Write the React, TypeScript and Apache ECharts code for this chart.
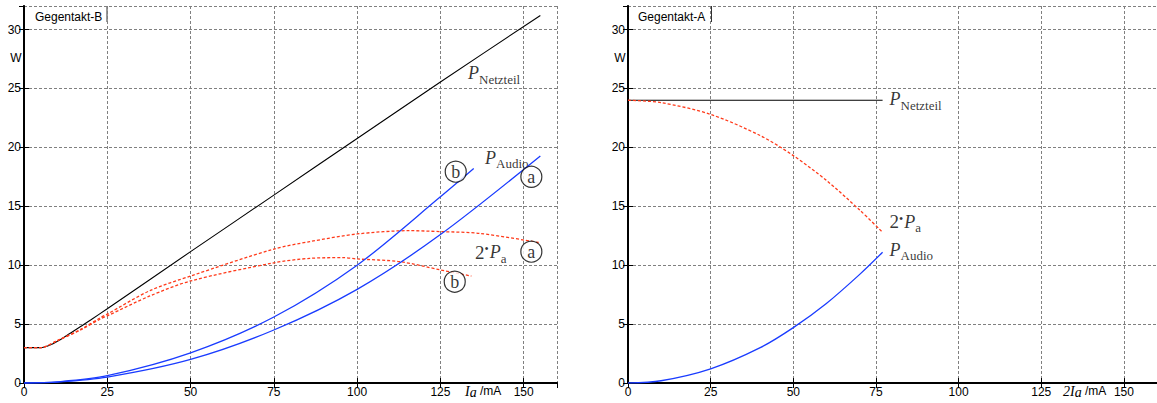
import React, { useEffect, useRef } from "react";
import * as echarts from "echarts";

// ---------- data ----------
const X_MIN = 0;
const X_MAX = 160;
const X_STEP = 25;
const X_LAST_LABEL = 150;
const Y_MIN = 0;
const Y_MAX = 32;
const Y_STEP = 5;
const Y_LAST_LABEL = 30;

const titles = ["Gegentakt-B", "Gegentakt-A"];

// Gegentakt-B (left)
const leftNetzteil: number[][] = [
  [0, 3], [5, 3], [8, 3.25], [11, 3.7], [14, 4.25], [17, 4.8], [20, 5.35], [25, 6.3],
  [50, 11.15], [75, 15.95], [100, 20.75], [125, 25.55], [155, 31.2],
];
const left2PaA: number[][] = [
  [0, 3], [5, 3], [10, 3.6], [17, 4.55], [23, 5.55], [25, 5.85], [37.8, 7.84], [50, 9.08],
  [75, 11.37], [85.8, 12.0], [100, 12.65], [115.8, 12.93], [125, 12.85], [136.8, 12.7], [155, 11.9],
];
const left2PaB: number[][] = [
  [0, 3], [5, 3], [10, 3.6], [17, 4.5], [23, 5.45], [25, 5.7], [37.8, 7.39], [50, 8.66],
  [75, 10.2], [85.8, 10.58], [95.8, 10.64], [100, 10.53], [112.8, 10.3], [125, 9.6], [134.3, 9.08],
];
const leftAudioA: number[][] = [
  [0, 0], [10, 0.08], [25, 0.5], [50, 2.0], [75, 4.5], [100, 7.95], [125, 12.6], [155, 19.27],
];
const leftAudioB: number[][] = [
  [0, 0], [10, 0.1], [25, 0.62], [50, 2.56], [75, 5.6], [100, 10.0], [125, 15.8], [135, 18.2],
];
const leftCircles = [
  { value: [129.6, 17.94], name: "b" },
  { value: [152.3, 17.5], name: "a" },
  { value: [152.3, 11.15], name: "a" },
  { value: [129.3, 8.6], name: "b" },
];
const leftLabels = [
  { value: [133.3, 26.3], pre: "", main: "P", sub: "Netzteil" },
  { value: [138.4, 19.1], pre: "", main: "P", sub: "Audio" },
  { value: [135.4, 11.1], pre: "2•", main: "P", sub: "a" },
];

// Gegentakt-A (right)
const rightNetzteil: number[][] = [[0, 24], [77, 24]];
const right2Pa: number[][] = [
  [0, 24], [10, 23.8], [25, 22.8], [40, 21.0], [50, 19.3], [60, 17.2], [70, 14.7], [77, 12.8],
];
const rightAudio: number[][] = [
  [0, 0], [10, 0.19], [25, 1.2], [40, 3.0], [50, 4.7], [60, 6.75], [70, 9.2], [77, 11.1],
];
const rightLabels = [
  { value: [79.1, 24.1], pre: "", main: "P", sub: "Netzteil" },
  { value: [79.1, 13.7], pre: "2•", main: "P", sub: "a" },
  { value: [79.1, 11.3], pre: "", main: "P", sub: "Audio" },
];

// ---------- styles ----------
const SANS = "'Liberation Sans', Arial, sans-serif";
const SERIF = "'Liberation Serif', 'Times New Roman', serif";
const BLACK = "#000";
const BLUE = "#1a3cff";
const RED = "#ff3a1a";
const GRID_GRAY = "#808080";

const richStyles = {
  n: { fontFamily: SERIF, fontSize: 19, color: BLACK, lineHeight: 20 },
  d: { fontFamily: SERIF, fontSize: 12, color: BLACK, lineHeight: 20, padding: [0, 1, 6, 0] },
  P: { fontFamily: SERIF, fontStyle: "italic", fontSize: 18, color: BLACK, lineHeight: 20 },
  s: { fontFamily: SERIF, fontSize: 13, color: BLACK, lineHeight: 13, padding: [12, 0, 0, 0] },
};

function labelSeries(data: any[], axisIndex: number) {
  return {
    type: "scatter",
    xAxisIndex: axisIndex,
    yAxisIndex: axisIndex,
    silent: true,
    symbolSize: 0,
    data: data.map((d) => ({
      value: d.value,
      label: {
        formatter: (d.pre ? `{n|${d.pre.charAt(0)}}{d|${d.pre.charAt(1)}}` : "") + `{P|${d.main}}{s|${d.sub}}`,
      },
    })),
    label: { show: true, position: "right", distance: 0, rich: richStyles },
  };
}

function lineSeries(data: number[][], axisIndex: number, color: string, dashed: boolean, width: number) {
  return {
    type: "line",
    xAxisIndex: axisIndex,
    yAxisIndex: axisIndex,
    data,
    showSymbol: false,
    symbol: "none",
    smooth: 0.3,
    silent: true,
    lineStyle: { color, width, type: dashed ? [3, 2] : "solid" },
  };
}

function makeAxes(gridIndex: number) {
  const xBottom = {
    type: "value",
    gridIndex,
    min: X_MIN,
    max: X_MAX,
    interval: X_STEP,
    position: "bottom",
    axisLine: { show: true, lineStyle: { color: BLACK, width: 2 } },
    axisTick: { show: true, inside: true, length: 5, lineStyle: { color: BLACK } },
    axisLabel: {
      show: true,
      margin: 3,
      fontSize: 12,
      fontFamily: SANS,
      color: BLACK,
      showMaxLabel: false,
      formatter: (v: number) => (v <= X_LAST_LABEL && v % X_STEP === 0 ? String(v) : ""),
    },
    splitLine: { show: true, lineStyle: { color: GRID_GRAY, type: [3, 2], width: 1 } },
  };
  const xTop = {
    type: "value",
    gridIndex,
    min: X_MIN,
    max: X_MAX,
    interval: X_STEP,
    position: "top",
    axisLine: { show: true, lineStyle: { color: BLACK, width: 1.5 } },
    axisTick: { show: true, inside: true, length: 5, lineStyle: { color: BLACK } },
    axisLabel: { show: false },
    splitLine: { show: false },
  };
  const yLeft = {
    type: "value",
    gridIndex,
    min: Y_MIN,
    max: Y_MAX,
    interval: Y_STEP,
    position: "left",
    axisLine: { show: true, lineStyle: { color: BLACK, width: 2 } },
    axisTick: { show: true, inside: true, length: 5, lineStyle: { color: BLACK } },
    axisLabel: {
      show: true,
      margin: 3,
      fontSize: 12,
      fontFamily: SANS,
      color: BLACK,
      showMaxLabel: false,
      formatter: (v: number) => (v <= Y_LAST_LABEL && v % Y_STEP === 0 ? String(v) : ""),
    },
    splitLine: { show: true, lineStyle: { color: GRID_GRAY, type: [3, 2], width: 1 } },
  };
  const yRight = {
    type: "value",
    gridIndex,
    min: Y_MIN,
    max: Y_MAX,
    interval: Y_STEP,
    position: "right",
    axisLine: { show: true, lineStyle: { color: BLACK, width: 1.5 } },
    axisTick: { show: true, inside: true, length: 5, lineStyle: { color: BLACK } },
    axisLabel: { show: false },
    splitLine: { show: false },
  };
  return { xBottom, xTop, yLeft, yRight };
}

export default function App() {
  const ref = useRef<HTMLDivElement>(null);

  useEffect(() => {
    if (!ref.current) return;
    const chart = echarts.init(ref.current, null, { renderer: "svg" });
    const a0 = makeAxes(0);
    const a1 = makeAxes(1);

    const circleSeries = {
      type: "scatter",
      xAxisIndex: 0,
      yAxisIndex: 0,
      silent: true,
      symbol: "circle",
      symbolSize: 21,
      data: leftCircles,
      itemStyle: { color: "#fff", borderColor: BLACK, borderWidth: 1.2 },
      label: {
        show: true,
        position: "inside",
        formatter: "{b}",
        fontFamily: SERIF,
        fontSize: 18,
        color: BLACK,
      },
      z: 5,
    };

    const axisNameRich = {
      I: { fontFamily: SERIF, fontStyle: "italic", fontSize: 14, color: BLACK },
      a: { fontFamily: SERIF, fontStyle: "italic", fontSize: 14, color: BLACK, padding: [2, 0, 0, 0] },
      t: { fontFamily: SANS, fontSize: 12, color: BLACK },
    };

    chart.setOption({
      animation: false,
      backgroundColor: "#fff",
      grid: [
        { left: 24, top: 6, width: 533, height: 377, containLabel: false },
        { left: 628, top: 6, width: 533, height: 377, containLabel: false },
      ],
      xAxis: [a0.xBottom, a1.xBottom, { ...a0.xTop }, { ...a1.xTop }],
      yAxis: [a0.yLeft, a1.yLeft, { ...a0.yRight }, { ...a1.yRight }],
      series: [
        lineSeries(leftNetzteil, 0, BLACK, false, 1.1),
        lineSeries(left2PaA, 0, RED, true, 1.3),
        lineSeries(left2PaB, 0, RED, true, 1.3),
        lineSeries(leftAudioA, 0, BLUE, false, 1.3),
        lineSeries(leftAudioB, 0, BLUE, false, 1.3),
        circleSeries,
        labelSeries(leftLabels, 0),
        lineSeries(rightNetzteil, 1, BLACK, false, 1.1),
        lineSeries(right2Pa, 1, RED, true, 1.3),
        lineSeries(rightAudio, 1, BLUE, false, 1.3),
        labelSeries(rightLabels, 1),
      ],
      graphic: [
        { type: "line", shape: { x1: 107, y1: 6, x2: 107, y2: 22 }, style: { stroke: "#333", lineWidth: 1 } },
        { type: "line", shape: { x1: 711.5, y1: 6, x2: 711.5, y2: 22 }, style: { stroke: "#333", lineWidth: 1 } },
        {
          type: "text", x: 35, y: 17,
          style: { text: titles[0], font: `12px ${SANS}`, fill: BLACK, textVerticalAlign: "middle" },
        },
        {
          type: "text", x: 638, y: 17,
          style: { text: titles[1], font: `12px ${SANS}`, fill: BLACK, textVerticalAlign: "middle" },
        },
        {
          type: "text", x: 16, y: 58,
          style: { text: "W", font: `12px ${SANS}`, fill: BLACK, textAlign: "center", textVerticalAlign: "middle" },
        },
        {
          type: "text", x: 620, y: 58,
          style: { text: "W", font: `12px ${SANS}`, fill: BLACK, textAlign: "center", textVerticalAlign: "middle" },
        },
        {
          type: "text", x: 465, y: 391,
          style: { text: "{I|I}{a|a}{t| /mA}", rich: axisNameRich, textVerticalAlign: "middle" },
        },
        {
          type: "text", x: 1063, y: 391,
          style: { text: "{I|2I}{a|a}{t| /mA}", rich: axisNameRich, textVerticalAlign: "middle" },
        },
      ],
    });
    return () => chart.dispose();
  }, []);

  return (
    <div
      ref={ref}
      style={{ position: "fixed", left: 0, top: 0, width: 1157, height: 403, background: "#fff" }}
    />
  );
}
